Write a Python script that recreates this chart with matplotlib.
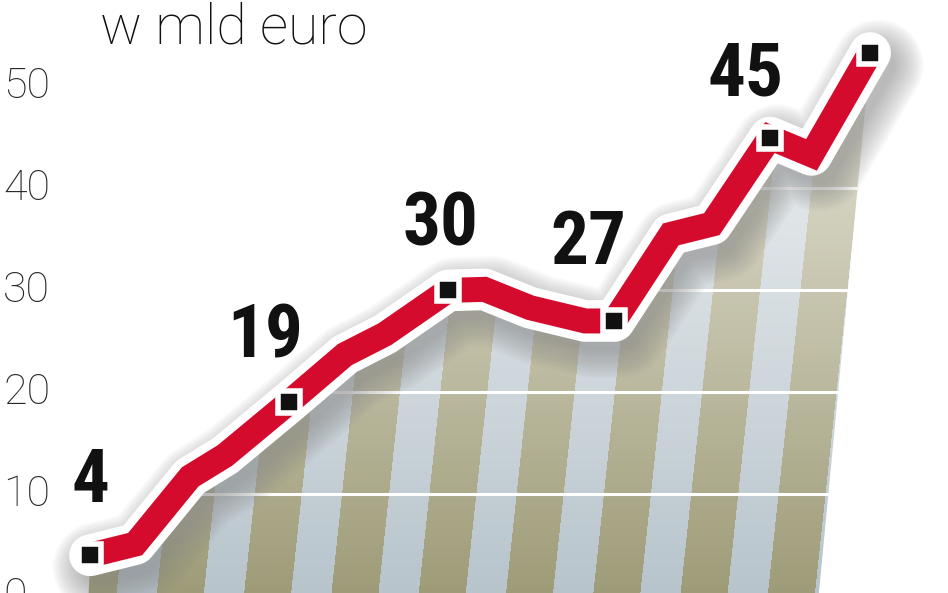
import numpy as np
import matplotlib
matplotlib.use("Agg")
import matplotlib.pyplot as plt
from matplotlib.patches import Polygon
from matplotlib import transforms
from matplotlib import font_manager

# wartosci w mld euro
okres = [0, 0.87, 1.93, 2.6, 3.83, 4.91, 5.68, 6.9, 7.6, 8.48, 9.54, 10.1, 11.19, 11.98, 13.1, 13.9, 15.03]
wartosc = [4, 5.1, 11.7, 13.8, 19, 23.7, 25.7, 30, 30.1, 28.3, 27.0, 27, 35.5, 36.5, 45, 43.3, 53.3]
punkty = [0, 4, 7, 11, 14, 16]
etykiety = ["4", "19", "30", "27", "45", ""]
y_ticks = [0, 10, 20, 30, 40, 50, 60]
tytul = "w mld euro"

# przesuniecia etykiet (piksele)
przes = [(0, 73), (-24, 65), (-8, 65), (-26, 77), (-24, 62), (0, 0)]

# waska czcionka do liczb
dostepne = {f.name for f in font_manager.fontManager.ttflist}
waska = "DejaVu Sans"
for kand in ["Liberation Sans Narrow", "Roboto Condensed", "Open Sans Condensed", "Noto Sans Display"]:
    if kand in dostepne:
        waska = kand
        break

W, H = 948, 593
fig = plt.figure(figsize=(W / 100, H / 100), dpi=100)
ax = fig.add_axes([0, 0, 1, 1])
ax.set_xlim(-1.734, 16.53)
ax.set_ylim(0.3, 58.5)
ax.axis("off")

x = np.array(okres)
y = np.array(wartosc)

#-----tlo w paski------
r, c = np.mgrid[0:H, 0:W]
oliwka = ((c - 0.107 * (H - r) - 69) % 87.3) < 47
t = (r / H)[..., None] ** 1.1
ol_top, ol_bot = np.array([0.92, 0.915, 0.87]), np.array([0.62, 0.61, 0.47])
li_top, li_bot = np.array([0.95, 0.96, 0.96]), np.array([0.72, 0.77, 0.80])
kol_ol = ol_top + (ol_bot - ol_top) * t
kol_li = li_top + (li_bot - li_top) * t
img = np.where(oliwka[..., None], kol_ol, kol_li)

# obszar pod krzywa
poly_xy = [(x[0] - 0.05, -2)] + list(zip(x, y - 1.0)) + [(x[-1] - 0.05, y[-1] - 3), (14.0, -2)]
poly = Polygon(poly_xy, closed=True, facecolor="none", edgecolor="none", transform=ax.transData)
ax.add_patch(poly)
im = ax.imshow(img, extent=(ax.get_xlim()[0], ax.get_xlim()[1], ax.get_ylim()[0], ax.get_ylim()[1]),
               aspect="auto", origin="upper", zorder=1)
im.set_clip_path(poly)

# linie siatki
for g in [10, 20, 30, 40]:
    ln, = ax.plot([-2, 17], [g, g], color="white", lw=2.2, zorder=2)
    ln.set_clip_path(poly)

#-----cien------
off = transforms.offset_copy(ax.transData, fig=fig, x=8, y=-12, units="dots")
for lw in np.linspace(90, 34, 14):
    ax.plot(x, y, color="#8a8a8a", alpha=0.055, lw=lw * 0.72, solid_joinstyle="round",
            solid_capstyle="round", transform=off, zorder=3)

#-----linia------
ax.plot(x, y, color="white", lw=30, solid_joinstyle="round", solid_capstyle="round", zorder=4)
ax.plot(x, y, color="#d50b2e", lw=18, solid_joinstyle="miter", solid_capstyle="butt", zorder=5)
ax.plot(x[punkty], y[punkty], "s", ms=16, mfc="#111111", mec="white", mew=4, zorder=6)

for i, lab, (dx, dy) in zip(punkty, etykiety, przes):
    if lab:
        ax.annotate(lab, (x[i], y[i]), xytext=(dx, dy), textcoords="offset pixels",
                    ha="center", va="center", fontsize=54 if waska != "DejaVu Sans" else 40,
                    fontweight="bold", fontstretch="condensed",
                    family=[waska, "DejaVu Sans"], color="#111111", zorder=7)

#-----os Y------
tr = transforms.blended_transform_factory(ax.transAxes, ax.transData)
for v in y_ticks:
    ax.text(3 / W, v, str(v), transform=tr, ha="left", va="center", fontsize=31,
            fontweight="light", family=["Roboto", "DejaVu Sans"], color="#262626", zorder=7)

ax.text(100 / W, 1 - 1 / H, tytul, transform=ax.transAxes, ha="left", va="top", fontsize=40,
        fontweight="light", family=["Roboto", "DejaVu Sans"], color="#111111", zorder=7)

plt.savefig("out.png", dpi=100)
